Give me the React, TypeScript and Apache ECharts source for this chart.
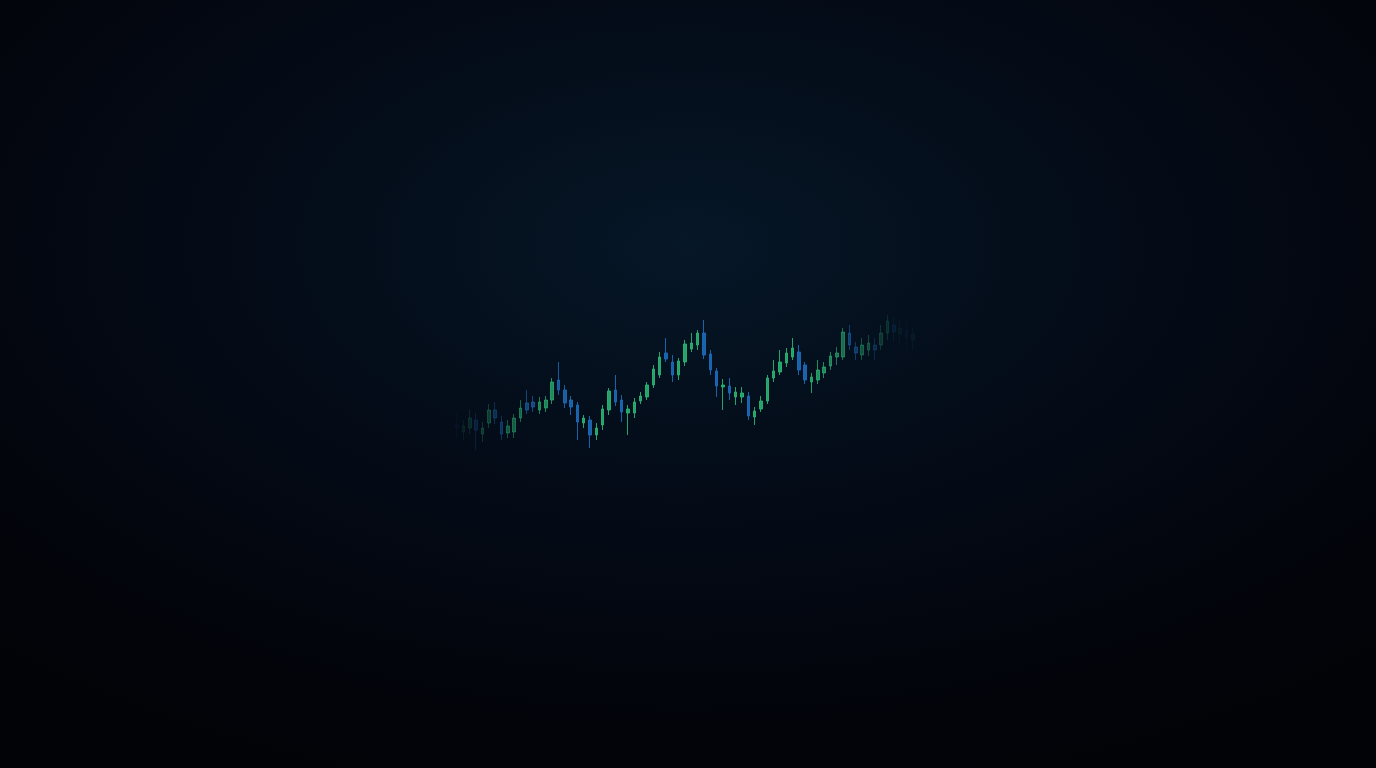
import React, { useEffect, useRef } from "react";
import * as echarts from "echarts";

// candlestick values: open, close, low, high
const opens = [75, 68, 72, 80, 66, 77, 90, 78, 67, 68, 82, 97, 98, 90, 92, 100, 120, 110, 100, 95, 77, 80, 65, 75, 90, 110, 100, 87, 87, 99, 103, 115, 125, 147, 138, 125, 138, 151, 155, 167, 146, 129, 113, 114, 103, 103, 104, 83, 91, 99, 122, 128, 137, 143, 148, 135, 118, 120, 127, 134, 143, 143, 167, 153, 145, 150, 155, 155, 167, 175, 166, 170, 160];
const closes = [72, 74, 82, 70, 72, 90, 82, 66, 74, 82, 92, 90, 93, 98, 100, 118, 110, 97, 93, 78, 82, 65, 72, 91, 109, 98, 88, 91, 98, 104, 115, 131, 143, 141, 125, 139, 156, 157, 167, 145, 130, 114, 115, 107, 108, 107, 84, 89, 99, 122, 129, 138, 147, 152, 130, 120, 123, 130, 133, 144, 147, 168, 155, 147, 155, 157, 150, 167, 179, 168, 172, 162, 166];
const lows = [62, 60, 66, 50, 58, 72, 76, 60, 62, 62, 78, 86, 88, 86, 88, 96, 105, 92, 85, 60, 72, 52, 60, 70, 85, 94, 78, 65, 82, 96, 100, 112, 122, 138, 118, 120, 134, 148, 150, 141, 125, 103, 90, 100, 95, 97, 80, 75, 88, 96, 118, 125, 133, 140, 125, 116, 107, 116, 122, 130, 135, 140, 150, 140, 140, 144, 140, 150, 160, 158, 155, 150, 150];
const highs = [88, 80, 90, 87, 78, 96, 98, 84, 80, 86, 100, 110, 104, 103, 104, 122, 138, 115, 104, 98, 85, 84, 77, 95, 112, 125, 105, 95, 102, 108, 118, 135, 148, 162, 145, 142, 160, 167, 170, 180, 150, 132, 121, 122, 113, 113, 108, 93, 104, 125, 140, 150, 152, 162, 155, 138, 127, 140, 138, 148, 153, 172, 175, 158, 162, 165, 162, 175, 185, 182, 180, 176, 172];
const categories = opens.map((_, i) => `T${i + 1}`);

export default function App() {
  const ref = useRef<HTMLDivElement>(null);
  useEffect(() => {
    document.body.style.margin = "0";
    document.body.style.background = "#020308";
    const chart = echarts.init(ref.current!, null, { renderer: "svg" });
    const fade = (i: number) => {
      if (i < 18) return 0.06 + (0.84 * i) / 18;
      if (i > 55) return Math.max(0.06, 0.9 - (0.84 * (i - 55)) / 15);
      return 0.9;
    };
    const data = opens.map((o, i) => ({
      value: [o, closes[i], lows[i], highs[i]],
      itemStyle: { opacity: fade(i) },
    }));
    chart.setOption({
      animation: false,
      backgroundColor: {
        type: "radial",
        x: 0.5,
        y: 0.32,
        r: 0.75,
        colorStops: [
          { offset: 0, color: "#061727" },
          { offset: 0.35, color: "#040d1a" },
          { offset: 0.75, color: "#03050d" },
          { offset: 1, color: "#020306" },
        ],
      },
      grid: { left: 454, width: 462, top: 0, height: 500 },
      xAxis: {
        type: "category",
        data: categories,
        boundaryGap: true,
        show: false,
      },
      yAxis: { type: "value", min: 0, max: 500, show: false },
      series: [
        {
          type: "candlestick",
          data,
          barWidth: 3,
          itemStyle: {
            color: "#2bb273",
            color0: "#1d6cb8",
            borderColor: "#2bb273",
            borderColor0: "#1d6cb8",
            borderWidth: 1,
          },
        },
      ],
    });
    return () => chart.dispose();
  }, []);
  return <div ref={ref} style={{ width: 1376, height: 768 }} />;
}
